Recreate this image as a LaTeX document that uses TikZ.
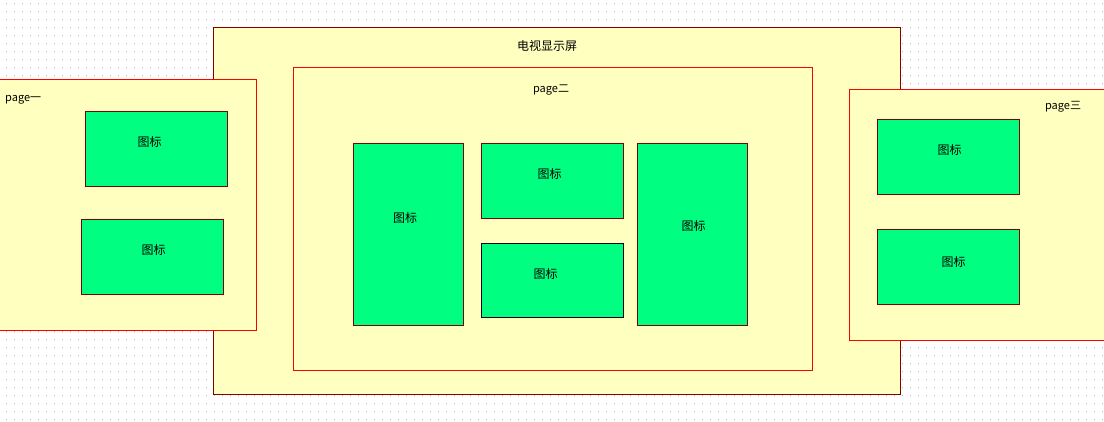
\documentclass[tikz,border=0pt]{standalone}
\usepackage{fontspec}
\setmainfont{Noto Sans CJK SC}
\usetikzlibrary{fit}
\definecolor{paneyellow}{HTML}{FFFFC0}
\definecolor{icongreen}{HTML}{00FF80}
\definecolor{darkred}{HTML}{800000}
\definecolor{brightred}{HTML}{FF0000}
\definecolor{dotgray}{HTML}{B8B8B8}
\tikzset{
  gridrow/.style={draw=dotgray, line width=1pt, dash pattern=on 1pt off 7pt},
  screenbox/.style={draw=darkred, fill=paneyellow, line width=1pt, inner sep=0pt, outer sep=0pt},
  pagebox/.style={draw=brightred, fill=paneyellow, line width=1pt, inner sep=0pt, outer sep=0pt},
  iconbox/.style={draw=darkred, fill=icongreen, line width=1pt, inner sep=0pt, outer sep=0pt},
  iconboxblack/.style={draw=black, fill=icongreen, line width=1pt, inner sep=0pt, outer sep=0pt},
  bigtext/.style={font=\fontsize{12}{14}\selectfont, inner sep=0pt, text=black},
  pagetext/.style={font=\fontsize{11}{13}\selectfont, inner sep=0pt, text=black},
}
\begin{document}
\begin{tikzpicture}[x=1pt,y=-1pt]
\useasboundingbox (0,0) rectangle (1104,422);
\clip (0,0) rectangle (1104,422);
\fill[white] (0,0) rectangle (1104,422);
% dotted grid
\foreach \j in {0,...,52} {
  \draw[gridrow] (6,3.5+8*\j) -- (1104,3.5+8*\j);
}
% TV screen
\node[screenbox, fit={(213.5,27.5)(900.5,394.5)}] (tv) {};
\node[bigtext] (tvlabel) at (547,46) {电视显示屏};
% page one
\node[pagebox, fit={(-5,79.5)(256.5,330.5)}] (p1) {};
\node[pagetext, anchor=west] (p1label) at (5,100) {page一};
\node[iconbox, fit={(85.5,111.5)(227.5,186.5)}] (g1a) {};
\node[iconbox, fit={(81.5,219.5)(223.5,294.5)}] (g1b) {};
\node[bigtext] (t1a) at (149.7,142) {图标};
\node[bigtext] (t1b) at (153.7,250) {图标};
% page two
\node[pagebox, fit={(293.5,67.5)(812.5,370.5)}] (p2) {};
\node[pagetext] (p2label) at (551,90) {page二};
\node[iconbox, fit={(353.5,143.5)(463.5,325.5)}] (g2a) {};
\node[iconbox, fit={(481.5,143.5)(623.5,218.5)}] (g2b) {};
\node[iconboxblack, fit={(481.5,243.5)(623.5,317.5)}] (g2c) {};
\node[iconbox, fit={(637.5,143.5)(747.5,325.5)}] (g2d) {};
\node[bigtext] (t2a) at (405,218) {图标};
\node[bigtext] (t2b) at (549.7,173.7) {图标};
\node[bigtext] (t2c) at (545.7,274) {图标};
\node[bigtext] (t2d) at (693.7,226) {图标};
% page three
\node[pagebox, fit={(849.5,89.5)(1112,340.5)}] (p3) {};
\node[pagetext] (p3label) at (1063,106.5) {page三};
\node[iconbox, fit={(877.5,119.5)(1019.5,194.5)}] (g3a) {};
\node[iconbox, fit={(877.5,229.5)(1019.5,304.5)}] (g3b) {};
\node[bigtext] (t3a) at (949.7,150) {图标};
\node[bigtext] (t3b) at (953.7,262) {图标};
\end{tikzpicture}
\end{document}
